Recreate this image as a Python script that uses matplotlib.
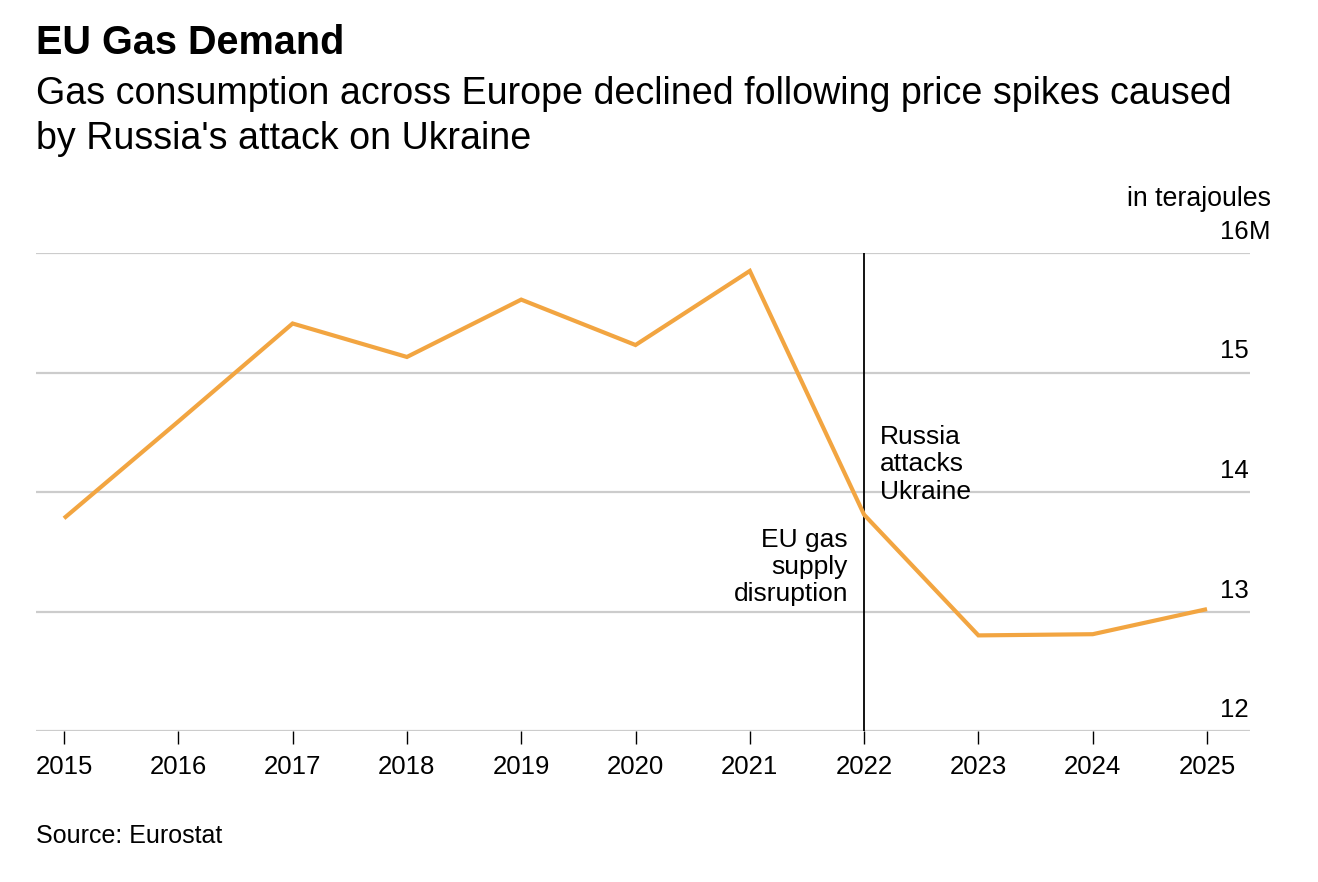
import matplotlib.pyplot as plt
from matplotlib import transforms

plt.rcParams['font.family'] = ['Liberation Sans', 'DejaVu Sans']

years = [2015, 2016, 2017, 2018, 2019, 2020, 2021, 2022, 2023, 2024, 2025]
demand = [13.78, 14.59, 15.41, 15.13, 15.61, 15.23, 15.85, 13.81, 12.80, 12.81, 13.02]
y_ticks = [12, 13, 14, 15, 16]
y_labels = ['12', '13', '14', '15', '16M']
event_year = 2022

LINE = '#f2a541'
GRID = '#cccccc'
TICK_FS = 18.5

fig = plt.figure(figsize=(13.18, 8.82), dpi=100)
ax = fig.add_axes([36 / 1318, 1 - 731 / 882, (1250 - 36) / 1318, (731 - 253) / 882])

ax.set_xlim(2014.755, 2025.376)
ax.set_ylim(12, 16)

for v in y_ticks:
    ax.axhline(v, color=GRID, lw=1.6, zorder=1)

ax.plot(years, demand, color=LINE, lw=3, solid_joinstyle='miter',
        solid_capstyle='butt', zorder=3)
ax.axvline(event_year, color='black', lw=1.3, zorder=2)

for s in ax.spines.values():
    s.set_visible(False)
ax.set_yticks([])
ax.set_xticks(years)
ax.set_xticklabels([str(y) for y in years], fontsize=TICK_FS)
ax.tick_params(axis='x', length=9, width=1, color='black', pad=8, direction='out')

# y labels sit above the gridlines, right aligned at the plot edge
off = transforms.offset_copy(ax.get_yaxis_transform(), fig=fig, x=-1, y=9, units='dots')
for v, lab in zip(y_ticks, y_labels):
    if lab.endswith('M'):
        ax.text(1.0, v, lab[:-1], transform=off, ha='right', va='bottom', fontsize=TICK_FS)
        ax.text(1.0, v, 'M', transform=off, ha='left', va='bottom', fontsize=TICK_FS)
    else:
        ax.text(1.0, v, lab, transform=off, ha='right', va='bottom', fontsize=TICK_FS)

fig.text(1271 / 1318, 1 - 206 / 882, 'in terajoules', ha='right', va='baseline', fontsize=19.3)

ax.text(2022.14, 14.56, 'Russia\nattacks\nUkraine', ha='left', va='top',
        fontsize=19, linespacing=1.17)
ax.text(2021.86, 13.7, 'EU gas\nsupply\ndisruption', ha='right', va='top',
        fontsize=19, linespacing=1.17)

fig.text(36 / 1318, 1 - 54 / 882, 'EU Gas Demand', fontsize=28.5, fontweight='bold',
         ha='left', va='baseline')
fig.text(36 / 1318, 1 - 104 / 882, 'Gas consumption across Europe declined following price spikes caused',
         fontsize=27.1, ha='left', va='baseline')
fig.text(36 / 1318, 1 - 149 / 882, "by Russia's attack on Ukraine",
         fontsize=27.1, ha='left', va='baseline')
fig.text(36 / 1318, 1 - 843 / 882, 'Source: Eurostat', fontsize=18, ha='left', va='baseline')

fig.savefig('out.png', dpi=100, facecolor='white')
